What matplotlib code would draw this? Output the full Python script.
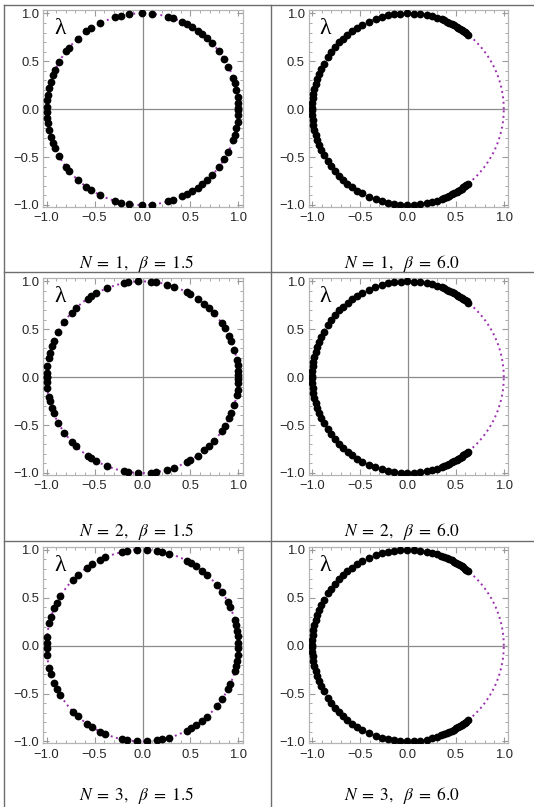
import numpy as np
import matplotlib
matplotlib.use("Agg")
import matplotlib.pyplot as plt
from matplotlib.lines import Line2D
from matplotlib.ticker import MultipleLocator, FuncFormatter

plt.rcParams['font.family'] = ['Liberation Sans', 'DejaVu Sans']
plt.rcParams['mathtext.fontset'] = 'stix'

# Eigenvalue phases (degrees) in the upper half plane; complex conjugates are mirrored
angles_N1_b15 = [0.5, 3.5, 7.5, 11.5, 15.6, 18.7, 26.3, 31.3, 37.2, 43.6, 47.8, 51.4, 55.0, 58.7,
                 62.3, 65.6, 71.3, 74.4, 84.4, 90.5, 98.0, 102.7, 106.8, 116.5, 122.2, 125.8,
                 132.6, 140.0, 142.8, 150.6, 155.9, 159.2, 163.4, 167.5, 171.5, 174.5, 178.5]
angles_N1_b60 = [51.1, 52.4, 53.6, 54.8, 56.0, 57.2, 58.4, 59.5, 61.2, 62.9, 64.6, 66.2, 67.8, 69.4,
                 72.5, 75.6, 78.7, 82.7, 86.6, 90.6, 94.5, 98.5, 101.9, 105.6, 109.7, 114.0,
                 118.4, 121.8, 125.4, 129.1, 132.5, 135.8, 139.6, 143.5, 147.0, 151.7, 155.0,
                 158.2, 161.4, 164.5, 167.6, 170.6, 173.6, 176.5, 179.5]
angles_N2_b15 = [1.0, 3.6, 7.5, 10.6, 16.6, 21.9, 25.4, 30.7, 34.3, 42.0, 46.0, 49.8, 54.9, 60.2,
                 62.4, 70.8, 75.1, 82.2, 85.2, 92.6, 98.8, 101.2, 111.6, 119.1, 122.5, 124.9,
                 134.0, 137.6, 144.5, 151.7, 157.9, 161.1, 165.3, 168.3, 173.5, 177.4, 179.8]
angles_N2_b60 = [51.0, 52.3, 53.5, 54.7, 55.9, 57.1, 58.3, 59.5, 61.2, 62.9, 64.6, 66.2, 67.8, 69.4,
                 72.5, 75.6, 78.8, 82.7, 86.6, 90.6, 94.4, 98.4, 101.9, 105.6, 109.8, 114.0,
                 118.3, 121.8, 125.4, 129.0, 132.5, 135.8, 139.6, 143.4, 147.0, 151.6, 155.0,
                 158.2, 161.4, 164.5, 167.6, 170.6, 173.6, 176.5, 179.5]
angles_N3_b15 = [1.6, 5.5, 9.1, 12.5, 15.6, 23.6, 27.2, 33.8, 39.2, 47.7, 51.6, 56.0, 59.3, 62.6,
                 74.1, 78.2, 81.3, 87.6, 93.6, 99.6, 102.2, 112.9, 116.2, 121.9, 125.5, 132.6,
                 136.5, 149.0, 153.3, 157.0, 162.6, 166.3, 174.6, 178.4]
angles_N3_b60 = [51.2, 52.4, 53.6, 54.8, 56.0, 57.2, 58.4, 59.6, 61.2, 62.9, 64.6, 66.2, 67.8, 69.5,
                 72.5, 75.6, 78.7, 82.7, 86.6, 90.6, 94.5, 98.5, 101.9, 105.6, 109.7, 114.0,
                 118.4, 121.8, 125.4, 129.1, 132.5, 135.8, 139.6, 143.5, 147.0, 151.7, 155.0,
                 158.2, 161.4, 164.5, 167.6, 170.6, 173.6, 176.5, 179.5]

panel_angles = [[angles_N1_b15, angles_N1_b60],
                [angles_N2_b15, angles_N2_b60],
                [angles_N3_b15, angles_N3_b60]]
N_values = [1, 2, 3]
beta_labels = ['1.5', '6.0']

W, H = 534, 807
fig = plt.figure(figsize=(W / 100, H / 100), dpi=100)


def px_rect(l, t, w, h):
    return [l / W, 1 - (t + h) / H, w / W, h / H]


def fig_line(x0, y0, x1, y1):
    fig.add_artist(Line2D([x0 / W, x1 / W], [1 - y0 / H, 1 - y1 / H],
                          transform=fig.transFigure, color='#6e6e6e', lw=1.0))


def tick_fmt(v, pos):
    s = '%.1f' % abs(v)
    return ('\u2212' + s) if v < -1e-9 else s


row_lines = [4.7, 272, 541]
for y in row_lines:
    fig_line(4, y, W, y)
fig_line(4, 4.7, 4, H)
fig_line(270.5, 4.7, 270.5, H)

col_left = [43.3, 308.7]
col_center = [137, 402]
row_top = [10, 278, 546.5]
caption_y = [263, 531.5, 796]
axw, axh = 199.4, 196.7

theta_c = np.linspace(0, 2 * np.pi, 400)

for r in range(3):
    for c in range(2):
        ax = fig.add_axes(px_rect(col_left[c], row_top[r], axw, axh))
        ang = np.radians(np.array(panel_angles[r][c], dtype=float))
        ang = np.concatenate([ang, -ang])
        ax.plot(np.cos(theta_c), np.sin(theta_c), ls=(0, (1.0, 1.8)), color='#9b2fae', lw=1.4, zorder=2)
        ax.axhline(0, color='#8a8a8a', lw=0.9, zorder=1)
        ax.axvline(0, color='#8a8a8a', lw=0.9, zorder=1)
        ax.plot(np.cos(ang), np.sin(ang), 'o', color='black', ms=5.6, mew=0, zorder=3)
        ax.set_xlim(-1.035, 1.045)
        ax.set_ylim(-1.018, 1.035)
        for s in ax.spines.values():
            s.set_color('#b5b5b5')
            s.set_linewidth(0.9)
        ax.xaxis.set_major_locator(MultipleLocator(0.5))
        ax.yaxis.set_major_locator(MultipleLocator(0.5))
        ax.xaxis.set_minor_locator(MultipleLocator(0.1))
        ax.yaxis.set_minor_locator(MultipleLocator(0.1))
        ax.xaxis.set_major_formatter(FuncFormatter(tick_fmt))
        ax.yaxis.set_major_formatter(FuncFormatter(tick_fmt))
        ax.tick_params(which='both', direction='in', top=True, right=True, color='#9a9a9a',
                       labelsize=9.4, labelcolor='#262626')
        ax.tick_params(which='major', length=4, width=0.8)
        ax.tick_params(which='minor', length=2, width=0.6)
        ax.tick_params(axis='y', which='major', pad=3)
        ax.tick_params(axis='x', which='major', pad=4)
        ax.text(0.055, 0.905, 'λ', transform=ax.transAxes, fontsize=17,
                family=['Liberation Serif', 'DejaVu Serif'], ha='left', va='center')
        fig.text(col_center[c] / W, 1 - caption_y[r] / H,
                 r'$N\;=\;%d,\ \ \beta\;=\;%s$' % (N_values[r], beta_labels[c]),
                 ha='center', va='center', fontsize=12.5)

fig.savefig('out.png', dpi=100)
